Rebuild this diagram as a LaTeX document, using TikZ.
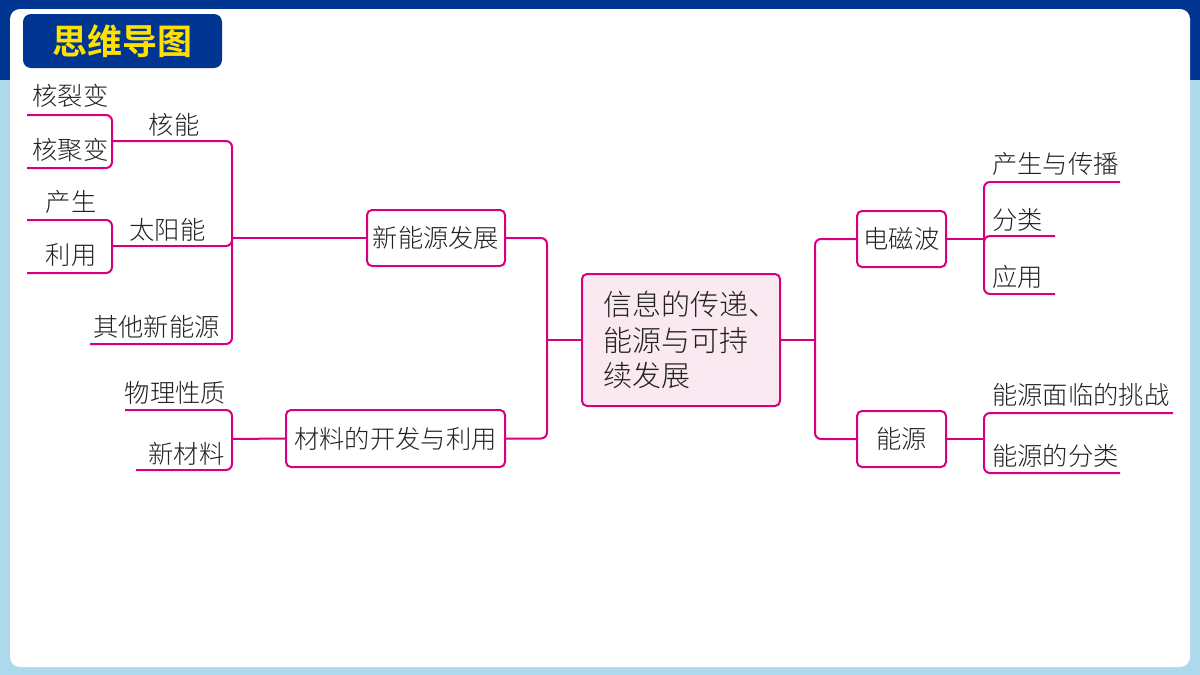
\documentclass[tikz,border=0pt]{standalone}
\usepackage{fontspec}
\setmainfont{Noto Sans CJK SC Light}[BoldFont={Noto Sans CJK SC Bold}]
\definecolor{topblue}{HTML}{003591}
\definecolor{sideblue}{HTML}{AED8EC}
\definecolor{linepink}{HTML}{D6007F}
\definecolor{boxpink}{HTML}{FBE9F2}
\definecolor{titleyellow}{HTML}{FFE100}
\definecolor{inkgray}{HTML}{222222}
\tikzset{
  conn/.style={draw=linepink,line width=2pt,rounded corners=6pt},
  topicbox/.style={draw=linepink,line width=2pt,rounded corners=5pt,fill=white,
    inner sep=0pt,text=inkgray,font=\fontsize{25.3}{30}\selectfont},
  leaflabel/.style={inner sep=0pt,text=inkgray,font=\fontsize{25.3}{30}\selectfont},
}
\begin{document}
\begin{tikzpicture}[x=1pt,y=-1pt]
    \useasboundingbox (0,0) rectangle (1200,675);
    % background
    \fill[sideblue] (0,0) rectangle (1200,675);
    \fill[topblue] (0,0) rectangle (1200,80);
    \fill[white,rounded corners=10pt] (10,9) rectangle (1190,667);
    \node[fill=topblue,rounded corners=8pt,minimum width=199pt,minimum height=54pt,inner sep=0pt,
      text=titleyellow,font=\fontsize{35}{40}\selectfont\bfseries] (title) at (122.5,41) {思维导图};
    % boxes
    \node[topicbox,fill=boxpink,minimum width=198pt,minimum height=132pt,
      font=\fontsize{29}{35.5}\selectfont,align=left] (main) at (681,340)
      {\makebox[156pt][l]{信息的传递、}\\能源与可持\\续发展};
    \node[topicbox,minimum width=138pt,minimum height=56pt] (xny) at (436,238) {新能源发展};
    \node[topicbox,minimum width=219pt,minimum height=57pt] (clkf) at (395.5,438.5) {材料的开发与利用};
    \node[topicbox,minimum width=89pt,minimum height=56pt] (dcb) at (901.5,239) {电磁波};
    \node[topicbox,minimum width=89pt,minimum height=56pt] (ny) at (901.5,439) {能源};
    % leaves
    \foreach \name/\x/\y/\txt in {
        hlb/70.5/96/核裂变, hjb/70.5/150/核聚变, hn/174/125/核能,
        cs/71/202/产生, ly/71/255/利用, tyn/167.5/230/太阳能,
        qt/156.5/327/其他新能源, wl/175.5/393/物理性质, xcl/186.5/454/新材料} {
        \node[leaflabel] (\name) at (\x,\y) {\txt};
      }
    \foreach \name/\x/\y/\txt in {
        cb/992/164/产生与传播, fl/992/220/分类, yy/992/277/应用,
        tz/992/395/能源面临的挑战, nfl/992/456/能源的分类} {
        \node[leaflabel,anchor=west] (\name) at (\x,\y) {\txt};
      }
    % trunks
    \coordinate (TL) at (547,340);
    \coordinate (TR) at (815,340);
    \draw[conn] (main.west) -- (TL);
    \draw[conn] (xny.east) -| (TL) |- (clkf.east);
    \draw[conn] (main.east) -- (TR);
    \draw[conn] (dcb.west) -| (TR) |- (ny.west);
    % left branches
    \coordinate (A) at (232,238);
    \coordinate (Hn) at (112,141);
    \coordinate (Ty) at (112,246);
    \coordinate (Qt) at (90,344);
    \draw[conn] (xny.west) -- (A);
    \draw[conn] (Hn) -| (A) |- (Qt);
    \draw[conn] (Ty) -| (A);
    \coordinate (H1) at (27,115);
    \coordinate (H2) at (27,168);
    \draw[conn] (H1) -| (Hn) |- (H2);
    \coordinate (C1) at (27,220);
    \coordinate (C2) at (27,273);
    \draw[conn] (C1) -| (Ty) |- (C2);
    \coordinate (B) at (232,439);
    \coordinate (W1) at (125,410);
    \coordinate (W2) at (136,470);
    \draw[conn] (clkf.west) -- (B);
    \draw[conn] (W1) -| (B) |- (W2);
    % right branches
    \coordinate (D) at (984,239);
    \coordinate (D1) at (1120,182);
    \coordinate (D2) at (1055,236);
    \coordinate (D3) at (1055,294);
    \draw[conn] (dcb.east) -- (D);
    \draw[conn] (D1) -| (D) |- (D3);
    \draw[conn] (D2) -| (D);
    \coordinate (E) at (984,439);
    \coordinate (E1) at (1173,413);
    \coordinate (E2) at (1120,473);
    \draw[conn] (ny.east) -- (E);
    \draw[conn] (E1) -| (E) |- (E2);
  \end{tikzpicture}
\end{document}
